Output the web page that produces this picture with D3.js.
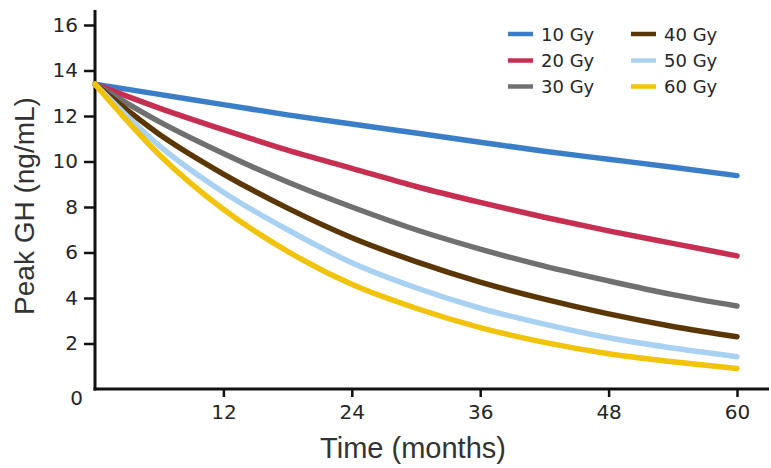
<!DOCTYPE html>
<html><head><meta charset="utf-8">
<script src="https://cdn.jsdelivr.net/npm/d3@7"></script>
<style>
html,body{margin:0;padding:0;background:#fff;}
text{font-family:"Liberation Sans",Arial,sans-serif;fill:#222;}
</style></head>
<body><svg id="c" width="771" height="468"></svg>
<script>
const months = [0, 6, 12, 18, 24, 30, 36, 42, 48, 54, 60];
const seriesNames = ["10 Gy", "20 Gy", "30 Gy", "40 Gy", "50 Gy", "60 Gy"];
const gy10 = [13.4, 12.95, 12.5, 12.05, 11.65, 11.25, 10.85, 10.45, 10.1, 9.75, 9.38];
const gy20 = [13.4, 12.35, 11.4, 10.5, 9.7, 8.9, 8.2, 7.55, 6.95, 6.4, 5.85];
const gy30 = [13.4, 11.75, 10.35, 9.1, 8.0, 7.0, 6.15, 5.4, 4.75, 4.15, 3.65];
const gy40 = [13.4, 11.2, 9.45, 7.95, 6.65, 5.6, 4.7, 3.95, 3.3, 2.75, 2.3];
const gy50 = [13.4, 10.7, 8.65, 7.0, 5.55, 4.45, 3.55, 2.85, 2.25, 1.8, 1.42];
const gy60 = [13.4, 10.3, 7.9, 6.05, 4.6, 3.55, 2.7, 2.05, 1.55, 1.2, 0.9];
const xTicks = [12, 24, 36, 48, 60];
const yTicks = [2, 4, 6, 8, 10, 12, 14, 16];
const colors = ["#3b7ec8", "#c62f52", "#707070", "#5b3707", "#a9d1f1", "#f1c30a"];

const tickFont = '"DejaVu Sans",Verdana,sans-serif';
const values = [gy10, gy20, gy30, gy40, gy50, gy60];
const svg = d3.select("#c");
const x = d3.scaleLinear().domain([0, 60]).range([95, 737]);
const y = d3.scaleLinear().domain([0, 16]).range([389, 25]);

// y axis
const yAxis = svg.append("g").attr("transform", `translate(${x(0)},0)`)
  .call(d3.axisLeft(y).tickValues(yTicks).tickSize(11).tickPadding(6).tickFormat(d3.format("d")));
yAxis.select(".domain").remove();
yAxis.selectAll(".tick line").attr("stroke", "#111").attr("stroke-width", 2.5);
yAxis.selectAll(".tick text").attr("font-size", 20).style("fill", "#262626")
  .style("font-family", tickFont);
svg.append("line").attr("x1", x(0)).attr("x2", x(0)).attr("y1", 10).attr("y2", y(0) + 1.5)
  .attr("stroke", "#111").attr("stroke-width", 3);

// x axis
const xAxis = svg.append("g").attr("transform", `translate(0,${y(0)})`)
  .call(d3.axisBottom(x).tickValues(xTicks).tickSize(8).tickPadding(8).tickFormat(d3.format("d")));
xAxis.select(".domain").remove();
xAxis.selectAll(".tick line").attr("stroke", "#111").attr("stroke-width", 2.5);
xAxis.selectAll(".tick text").attr("font-size", 20).style("fill", "#262626")
  .style("font-family", tickFont);
svg.append("line").attr("x1", x(0) - 1.5).attr("x2", 769).attr("y1", y(0)).attr("y2", y(0))
  .attr("stroke", "#111").attr("stroke-width", 3);

// origin label
svg.append("text").attr("x", 83).attr("y", y(0) + 16).attr("text-anchor", "end")
  .attr("font-size", 20).style("font-family", tickFont).style("fill", "#262626").text("0");

// titles
svg.append("text").attr("x", 413).attr("y", 458).attr("text-anchor", "middle")
  .attr("font-size", 29).style("fill", "#333").text("Time (months)");
svg.append("text").attr("transform", "translate(34,206) rotate(-90)").attr("text-anchor", "middle")
  .attr("font-size", 28).style("fill", "#333").text("Peak GH (ng/mL)");

// lines
const line = d3.line().x((d, i) => x(months[i])).y(d => y(d)).curve(d3.curveMonotoneX);
svg.append("g").selectAll("path").data(values).join("path")
  .attr("d", line).attr("fill", "none")
  .attr("stroke", (d, i) => colors[i]).attr("stroke-width", 5.5)
  .attr("stroke-linecap", "round").attr("stroke-linejoin", "round");

// legend
const leg = svg.append("g");
const lx = [508, 631], ly = [34, 60.5, 86.5];
seriesNames.forEach((name, i) => {
  const col = Math.floor(i / 3), row = i % 3;
  leg.append("line").attr("x1", lx[col]).attr("x2", lx[col] + 25)
    .attr("y1", ly[row]).attr("y2", ly[row]).attr("stroke", colors[i]).attr("stroke-width", 4.5);
  leg.append("text").attr("x", lx[col] + 33).attr("y", ly[row] + 6.5)
    .attr("font-size", 18).style("font-family", tickFont).style("fill", "#262626").text(name);
});
</script></body></html>
